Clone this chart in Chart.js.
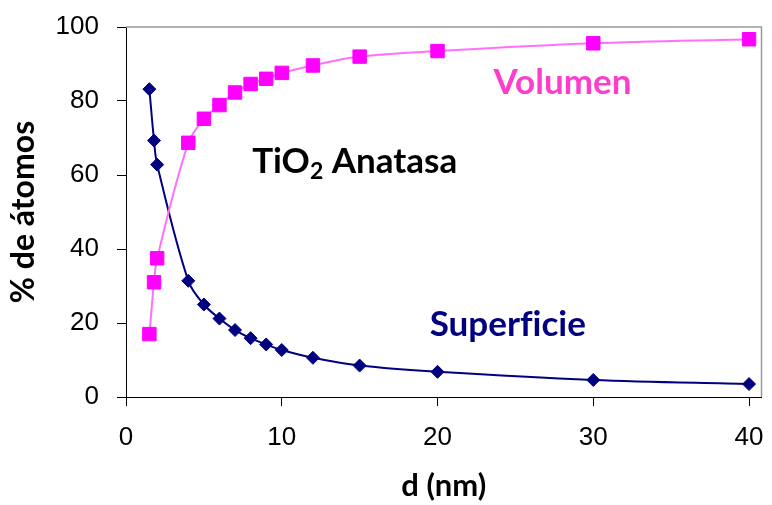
<!DOCTYPE html>
<html>
<head>
<meta charset="utf-8">
<script src="https://cdn.jsdelivr.net/npm/chart.js@4.4.1/dist/chart.umd.min.js"></script>
<style>
  html, body { margin: 0; padding: 0; background: #fff; }
  #wrap { width: 772px; height: 505px; position: relative; }
</style>
</head>
<body>
<div id="wrap"><canvas id="chart"></canvas></div>
<script>
// diameter of the particle (nm)
const diameters = [1.5, 1.8, 2, 4, 5, 6, 7, 8, 9, 10, 12, 15, 20, 30, 40];
// % of atoms in the volume / at the surface
const volumen = [17.0, 31.0, 37.5, 68.7, 75.2, 78.9, 82.3, 84.6, 86.0, 87.6, 89.6, 92.0, 93.5, 95.6, 96.7];
const superficie = [83.2, 69.3, 62.8, 31.4, 25.0, 21.2, 18.1, 15.9, 14.2, 12.7, 10.6, 8.5, 6.8, 4.6, 3.5];
const xTicks = [0, 10, 20, 30, 40];
const yTicks = [0, 20, 40, 60, 80, 100];

// text labels inside the plot, placed in data units
// (\u200C keeps the "fi" from turning into a ligature)
const notes = [
    { text: 'TiO', sub: '2', rest: ' Anatasa', x: 8.1, y: 60.5, color: '#000000' },
    { text: 'Volumen', x: 23.6, y: 81.9, color: '#FF3CCB' },
    { text: 'Superf\u200Cicie', x: 19.5, y: 16.5, color: '#000080' }
];

function toPoints(ys) {
    return diameters.map((d, i) => ({ x: d, y: ys[i] }));
}

const frame = {
    id: 'frame',
    beforeDatasetsDraw(chart) {
        const a = chart.chartArea, ctx = chart.ctx;
        ctx.save();
        ctx.strokeStyle = '#9a9a9a';
        ctx.lineWidth = 1.5;
        ctx.beginPath();
        ctx.moveTo(a.left, a.top);
        ctx.lineTo(a.right, a.top);
        ctx.lineTo(a.right, a.bottom);
        ctx.stroke();
        ctx.restore();
    },
    afterDatasetsDraw(chart) {
        const ctx = chart.ctx, xs = chart.scales.x, ys = chart.scales.y;
        ctx.save();
        ctx.textBaseline = 'alphabetic';
        ctx.textAlign = 'left';
        notes.forEach(n => {
            let px = xs.getPixelForValue(n.x);
            const py = ys.getPixelForValue(n.y);
            ctx.fillStyle = n.color;
            ctx.font = 'bold 35px Lato';
            ctx.fillText(n.text, px, py);
            px += ctx.measureText(n.text).width;
            if (n.sub) {
                ctx.font = 'bold 23px Lato';
                ctx.fillText(n.sub, px, py + 6);
                px += ctx.measureText(n.sub).width;
                ctx.font = 'bold 35px Lato';
                ctx.fillText(n.rest, px, py);
            }
        });
        ctx.restore();
    }
};

const ctx = document.getElementById('chart').getContext('2d');
const chart = new Chart(ctx, {
    type: 'line',
    data: {
        datasets: [{
            label: 'Volumen',
            data: toPoints(volumen),
            borderColor: '#FF70FF',
            backgroundColor: '#FF00FF',
            pointBackgroundColor: '#FF00FF',
            pointBorderColor: '#FF00FF',
            pointStyle: 'rect',
            pointRadius: 9.5,
            pointBorderWidth: 1,
            borderWidth: 2,
            tension: 0.35,
            fill: false
        }, {
            label: 'Superficie',
            data: toPoints(superficie),
            borderColor: '#000080',
            backgroundColor: '#000080',
            pointBackgroundColor: '#000080',
            pointBorderColor: '#000080',
            pointStyle: 'rectRot',
            pointRadius: 6.5,
            pointBorderWidth: 1,
            borderWidth: 2,
            tension: 0.35,
            fill: false
        }]
    },
    options: {
        responsive: true,
        maintainAspectRatio: false,
        animation: false,
        layout: {
            padding: { left: 0, right: 7, top: 27, bottom: 0 }
        },
        plugins: {
            legend: { display: false },
            tooltip: { enabled: false }
        },
        scales: {
            x: {
                type: 'linear',
                min: 0,
                max: 40.8,
                afterBuildTicks: s => { s.ticks = xTicks.map(v => ({ value: v })); },
                afterFit: s => {
                    s.height = 108;
                    s.paddingLeft = 0;
                    s.paddingRight = 0;
                },
                ticks: {
                    color: '#000',
                    font: { family: 'Liberation Sans', size: 26 },
                    padding: 16,
                    maxRotation: 0
                },
                grid: {
                    drawOnChartArea: false,
                    drawTicks: true,
                    tickLength: 9,
                    color: '#000'
                },
                border: { color: '#000', width: 1 },
                title: {
                    display: true,
                    text: 'd (nm)',
                    color: '#000',
                    font: { family: 'Lato', size: 31, weight: 'bold' },
                    padding: { top: 6, bottom: 0 }
                }
            },
            y: {
                min: 0,
                max: 100,
                afterBuildTicks: s => { s.ticks = yTicks.map(v => ({ value: v })); },
                afterFit: s => {
                    s.width = 126;
                    s.paddingTop = 0;
                    s.paddingBottom = 0;
                },
                ticks: {
                    color: '#000',
                    font: { family: 'Liberation Sans', size: 26 },
                    padding: 18
                },
                grid: {
                    drawOnChartArea: false,
                    drawTicks: true,
                    tickLength: 9,
                    color: '#000'
                },
                border: { color: '#000', width: 1 },
                title: {
                    display: true,
                    text: '% de átomos',
                    color: '#000',
                    font: { family: 'Lato', size: 32, weight: 'bold' },
                    padding: { top: 4, bottom: 0 }
                }
            }
        }
    },
    plugins: [frame]
});
</script>
</body>
</html>
